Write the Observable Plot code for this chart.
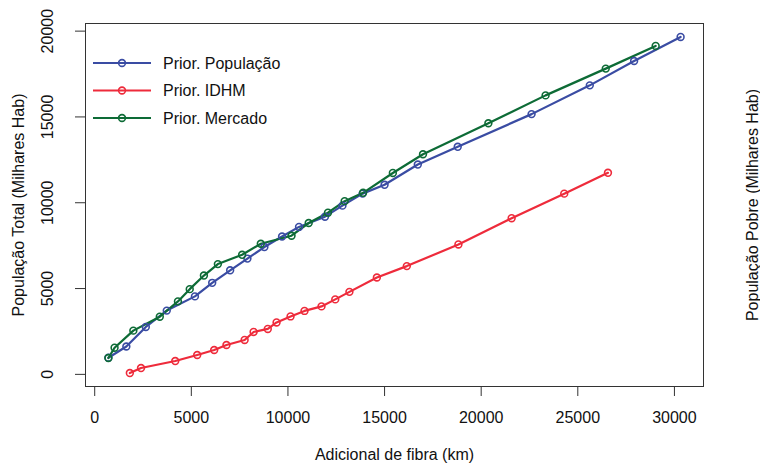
<!DOCTYPE html>
<html>
<head>
<meta charset="utf-8">
<script src="https://cdn.jsdelivr.net/npm/d3@7"></script>
<script src="https://cdn.jsdelivr.net/npm/@observablehq/plot@0.6"></script>
<style>
  html, body { margin: 0; padding: 0; background: #fff; }
  #chart svg { display: block; }
</style>
</head>
<body>
<div id="chart"></div>
<script>
// ---- Data ----
const seriesNames = ["Prior. População", "Prior. IDHM", "Prior. Mercado"];
const seriesColors = ["#3a4ca3", "#ee2b3b", "#0d6b36"];

const popX = [708, 1637, 2645, 3729, 5186, 6080, 7009, 7903, 8781, 9695, 10573, 11916, 12820, 13864, 15000, 16720, 18786, 22608, 25620, 27913, 30320];
const popY = [970, 1624, 2763, 3715, 4544, 5333, 6063, 6746, 7418, 8032, 8592, 9188, 9831, 10532, 11046, 12225, 13259, 15164, 16840, 18259, 19661];

const idhmX = [1818, 2397, 4168, 5305, 6183, 6818, 7758, 8223, 8957, 9411, 10134, 10857, 11736, 12448, 13182, 14602, 16152, 18822, 21576, 24298, 26560];
const idhmY = [76, 368, 777, 1128, 1420, 1711, 2004, 2471, 2646, 3026, 3376, 3697, 3960, 4369, 4807, 5643, 6308, 7570, 9100, 10531, 11746];

const mercX = [708, 1028, 1999, 3368, 4308, 4917, 5651, 6374, 7629, 8595, 10186, 11074, 12071, 12934, 13889, 15429, 16989, 20372, 23332, 26446, 29029];
const mercY = [952, 1554, 2547, 3359, 4252, 4965, 5759, 6425, 6968, 7611, 8078, 8820, 9422, 10093, 10578, 11735, 12827, 14632, 16256, 17815, 19136];

const xTicks = [0, 5000, 10000, 15000, 20000, 25000, 30000];
const yTicks = [0, 5000, 10000, 15000, 20000];

const xTitle = "Adicional de fibra (km)";
const yTitle = "População Total (Milhares Hab)";
const y2Title = "População Pobre (Milhares Hab)";

// ---- Build table ----
const allX = [popX, idhmX, mercX];
const allY = [popY, idhmY, mercY];
const data = [];
seriesNames.forEach((s, i) => {
  allX[i].forEach((x, j) => data.push({series: s, x, y: allY[i][j]}));
});

// R-style 4% axis extension
function ext(vals) {
  const [a, b] = d3.extent(vals);
  const p = (b - a) * 0.04;
  return [a - p, b + p];
}
const xDomain = ext(data.map(d => d.x));
const yDomain = ext(data.map(d => d.y));

const FONT = "'Liberation Sans', Arial, sans-serif";
const FS = 16;
const LFS = 16;

const W = 760, H = 464;
const mL = 85, mR = 57, mT = 23, mB = 78;

const plot = Plot.plot({
  width: W,
  height: H,
  marginLeft: mL,
  marginRight: mR,
  marginTop: mT,
  marginBottom: mB,
  style: {fontFamily: FONT, fontSize: FS + "px", color: "#111", background: "#fff"},
  x: {domain: xDomain},
  y: {domain: yDomain},
  color: {domain: seriesNames, range: seriesColors},
  marks: [
    Plot.frame({stroke: "#333", strokeWidth: 1}),
    Plot.axisX({ticks: xTicks, tickSize: 10, tickPadding: 15, tickFormat: d => String(d), label: null, fontSize: FS, stroke: "#333"}),
    Plot.axisY({ticks: yTicks, tickSize: 10, tickFormat: () => "", label: null, stroke: "#333"}),
    Plot.text(yTicks, {y: d => d, text: d => String(d), frameAnchor: "left", textAnchor: "middle", dx: -38, rotate: -90, fontSize: FS, fill: "#111"}),
    Plot.line(data, {x: "x", y: "y", z: "series", stroke: "series", strokeWidth: 2.2}),
    Plot.dot(data, {x: "x", y: "y", stroke: "series", r: 3.4, strokeWidth: 1.6, fill: "none"}),
    Plot.text([xTitle], {text: d => d, frameAnchor: "bottom", textAnchor: "middle", dy: 73, fontSize: FS, fill: "#111"}),
    Plot.text([yTitle], {text: d => d, frameAnchor: "left", textAnchor: "middle", dx: -67, rotate: -90, fontSize: FS, fill: "#111"}),
    Plot.text([y2Title], {text: d => d, frameAnchor: "right", textAnchor: "middle", dx: 49, rotate: -90, fontSize: FS, fill: "#111"})
  ]
});

// ---- Legend (inside plot, top-left) ----
const svg = d3.select(plot);
const lg = svg.append("g").attr("font-family", FONT).attr("font-size", LFS).attr("text-anchor", "start");
const legTop = 63, legStep = 27.5, lx0 = 93, lx1 = 151, tx = 163;
seriesNames.forEach((s, i) => {
  const yy = legTop + i * legStep;
  const col = seriesColors[i];
  lg.append("line").attr("x1", lx0).attr("x2", lx1).attr("y1", yy).attr("y2", yy)
    .attr("stroke", col).attr("stroke-width", 2.2);
  lg.append("circle").attr("cx", (lx0 + lx1) / 2).attr("cy", yy).attr("r", 3.4)
    .attr("fill", "none").attr("stroke", col).attr("stroke-width", 1.6);
  lg.append("text").attr("x", tx).attr("y", yy).attr("dy", "0.35em")
    .attr("text-anchor", "start").attr("fill", "#111").text(s);
});

document.getElementById("chart").appendChild(plot);
</script>
</body>
</html>
